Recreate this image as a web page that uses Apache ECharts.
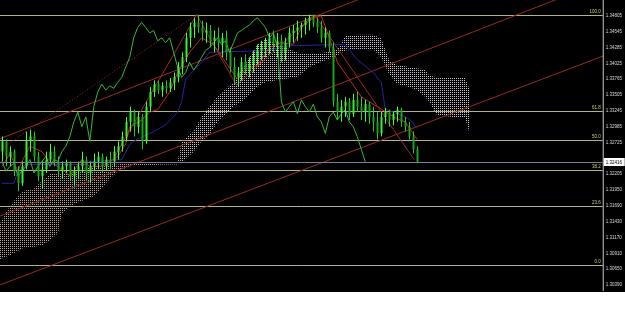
<!DOCTYPE html>
<html><head><meta charset="utf-8">
<script src="https://cdn.jsdelivr.net/npm/echarts@6/dist/echarts.min.js"></script>
<style>html,body{margin:0;padding:0;background:#fff;}#c{width:625px;height:322px;}</style>
</head><body><div id="c"></div>
<script>
// ---- data ----
const tickLabels = ['1.30390','1.30650','1.30910','1.31170','1.31430','1.31690','1.31950','1.32205','','1.32725','1.32985','1.33245','1.33505','1.33765','1.34025','1.34285','1.34545','1.34805'];
const tickBase = 1.30390, tickStep = 0.0026;

// candles: [open, close, low, high], one per bar (bar index = position)
const candles = [
[1.3258,1.3275,1.3242,1.3283],[1.3275,1.3250,1.3234,1.3278],[1.3250,1.3258,1.3234,1.3267],[1.3258,1.3226,1.3218,1.3262],
[1.3226,1.3206,1.3193,1.3234],[1.3206,1.3234,1.3202,1.3242],[1.3234,1.3275,1.3229,1.3291],[1.3275,1.3283,1.3258,1.3294],
[1.3283,1.3250,1.3242,1.3291],[1.3250,1.3218,1.3210,1.3258],[1.3218,1.3229,1.3197,1.3242],[1.3229,1.3245,1.3223,1.3258],
[1.3245,1.3258,1.3239,1.3271],[1.3258,1.3242,1.3234,1.3267],[1.3242,1.3226,1.3218,1.3250],[1.3226,1.3234,1.3213,1.3242],
[1.3234,1.3239,1.3223,1.3245],[1.3239,1.3218,1.3210,1.3242],[1.3218,1.3226,1.3202,1.3234],[1.3226,1.3234,1.3213,1.3242],
[1.3234,1.3245,1.3223,1.3258],[1.3245,1.3223,1.3210,1.3250],[1.3223,1.3234,1.3206,1.3242],[1.3234,1.3242,1.3226,1.3255],
[1.3242,1.3250,1.3229,1.3258],[1.3250,1.3234,1.3223,1.3255],[1.3234,1.3245,1.3226,1.3250],[1.3245,1.3242,1.3229,1.3258],
[1.3242,1.3258,1.3234,1.3267],[1.3258,1.3267,1.3245,1.3275],[1.3267,1.3283,1.3258,1.3291],[1.3283,1.3307,1.3275,1.3315],
[1.3307,1.3323,1.3291,1.3332],[1.3323,1.3299,1.3283,1.3327],[1.3299,1.3315,1.3288,1.3323],[1.3315,1.3275,1.3262,1.3320],
[1.3275,1.3332,1.3271,1.3340],[1.3332,1.3356,1.3323,1.3364],[1.3356,1.3369,1.3348,1.3375],[1.3369,1.3359,1.3353,1.3375],
[1.3359,1.3366,1.3348,1.3372],[1.3366,1.3362,1.3353,1.3375],[1.3362,1.3372,1.3356,1.3379],[1.3372,1.3380,1.3359,1.3388],
[1.3380,1.3397,1.3372,1.3405],[1.3397,1.3413,1.3385,1.3421],[1.3413,1.3445,1.3405,1.3453],[1.3445,1.3462,1.3429,1.3470],
[1.3462,1.3470,1.3445,1.3478],[1.3470,1.3462,1.3453,1.3483],[1.3462,1.3453,1.3440,1.3473],[1.3453,1.3457,1.3437,1.3470],
[1.3457,1.3440,1.3429,1.3466],[1.3440,1.3445,1.3421,1.3457],[1.3445,1.3437,1.3424,1.3462],[1.3437,1.3445,1.3413,1.3453],
[1.3445,1.3421,1.3408,1.3457],[1.3421,1.3397,1.3388,1.3429],[1.3397,1.3380,1.3369,1.3413],[1.3380,1.3388,1.3364,1.3397],
[1.3388,1.3405,1.3375,1.3413],[1.3405,1.3392,1.3385,1.3418],[1.3392,1.3401,1.3380,1.3413],[1.3401,1.3413,1.3388,1.3424],
[1.3413,1.3424,1.3401,1.3434],[1.3424,1.3429,1.3408,1.3440],[1.3429,1.3437,1.3413,1.3445],[1.3437,1.3445,1.3418,1.3453],
[1.3445,1.3434,1.3421,1.3457],[1.3434,1.3440,1.3413,1.3453],[1.3440,1.3421,1.3405,1.3450],[1.3421,1.3437,1.3408,1.3445],
[1.3437,1.3453,1.3429,1.3462],[1.3453,1.3457,1.3437,1.3466],[1.3457,1.3462,1.3440,1.3473],[1.3462,1.3466,1.3445,1.3470],
[1.3466,1.3473,1.3450,1.3478],[1.3473,1.3478,1.3457,1.3483],[1.3478,1.3470,1.3462,1.3483],[1.3470,1.3462,1.3453,1.3478],
[1.3462,1.3445,1.3437,1.3473],[1.3445,1.3453,1.3429,1.3462],[1.3453,1.3429,1.3421,1.3457],[1.3429,1.3340,1.3332,1.3437],
[1.3340,1.3323,1.3310,1.3353],[1.3323,1.3332,1.3307,1.3343],[1.3332,1.3340,1.3315,1.3348],[1.3340,1.3320,1.3310,1.3346],
[1.3320,1.3343,1.3315,1.3353],[1.3343,1.3332,1.3323,1.3356],[1.3332,1.3323,1.3310,1.3348],[1.3323,1.3336,1.3307,1.3343],
[1.3336,1.3315,1.3304,1.3340],[1.3315,1.3307,1.3291,1.3332],[1.3307,1.3288,1.3278,1.3323],[1.3288,1.3315,1.3283,1.3323],
[1.3315,1.3323,1.3304,1.3330],[1.3323,1.3310,1.3299,1.3327],[1.3310,1.3320,1.3301,1.3323],[1.3320,1.3327,1.3307,1.3332],
[1.3327,1.3307,1.3299,1.3330],[1.3307,1.3299,1.3291,1.3315],[1.3299,1.3283,1.3278,1.3307],[1.3283,1.3262,1.3255,1.3291],
[1.3262,1.32416,1.3239,1.3267]
];

const tenkanBar = [0,2,4,5,7,10,12,15,17,20,22,25,27,29,31,32,35,37,39,42,44,47,50,53,56,59,61,64,67,70,73,75,78,80,82,84,87,90,92,95,99,101,104];
const tenkanVal = [1.3234,1.3255,1.3226,1.3242,1.3267,1.3258,1.3242,1.3229,1.3218,1.3245,1.3234,1.3234,1.3242,1.3250,1.3271,1.3299,1.3310,1.3323,1.3327,1.3356,1.3388,1.3421,1.3445,1.3434,1.3405,1.3377,1.3393,1.3400,1.3429,1.3437,1.3434,1.3462,1.3478,1.3481,1.3445,1.3405,1.3377,1.3348,1.3340,1.3328,1.3312,1.3307,1.3278];

const kijunBar = [0,3,4,6,21,22,30,32,34,38,41,44,45,46,50,52,66,72,86,89,93,95,96,100,102,104];
const kijunVal = [1.3206,1.3206,1.3226,1.3237,1.3237,1.3242,1.3245,1.3270,1.3279,1.3291,1.3302,1.3323,1.3340,1.3377,1.3405,1.3421,1.3424,1.3432,1.3434,1.3409,1.3388,1.3372,1.3328,1.3318,1.3312,1.3296];

const chikouShift = 13;

const cloudBar = [-1,2,5,8,10,12,14,15,17,20,23,25,27,29,31,33,37,42,44,45,48,50,52,54,58,60,64,66,70,74,77,81,84,86,89,93,95,97,99,102,104,106,107,109,113,116,117];
const spanA = [1.3135,1.3169,1.3193,1.3197,1.3210,1.3221,1.3223,1.3223,1.3223,1.3229,1.3234,1.3237,1.3237,1.3237,1.3239,1.3239,1.3239,1.3240,1.3242,1.3275,1.3291,1.3315,1.3332,1.3348,1.3372,1.3392,1.3434,1.3442,1.3432,1.3421,1.3418,1.3421,1.3426,1.3448,1.3450,1.3450,1.3444,1.3408,1.3400,1.3397,1.3395,1.3393,1.3383,1.3380,1.3380,1.3379,1.3362];
const spanB = [1.3080,1.3088,1.3099,1.3102,1.3104,1.3112,1.3124,1.3156,1.3169,1.3177,1.3185,1.3198,1.3213,1.3226,1.3231,1.3236,1.3236,1.3237,1.3237,1.3240,1.3258,1.3275,1.3286,1.3307,1.3332,1.3340,1.3364,1.3372,1.3377,1.3380,1.3397,1.3408,1.3416,1.3424,1.3426,1.3426,1.3413,1.3385,1.3369,1.3364,1.3359,1.3348,1.3340,1.3318,1.3315,1.3315,1.3291];
const cloudSplitBar = 45;

const fibHigh = 1.34826, fibLow = 1.30715;
const fibLevels = [0, 23.6, 38.2, 50, 61.8, 100];
const fibLabels = ['0.0','23.6','38.2','50.0','61.8','100.0'];

const lastPrice = 1.32416, lastPriceLabel = '1.32416';

const channelLines = [
  [[-1,1.3038],[155,1.3426]],
  [[-1,1.3151],[155,1.3549]],
  [[-1,1.3278],[100,1.3535]]
];
const dottedLine = [[-1,1.3259],[48.75,1.3483]];
const zigzag = [[28.25,1.3250],[48.75,1.3483],[58.75,1.3367],[78.25,1.3483],[103.25,1.3245]];

// ---- chart ----
const FONT = '4.5px "Liberation Sans"';
function makePattern(color){
  const c = document.createElement('canvas'); c.width = 2; c.height = 2;
  const g = c.getContext('2d'); g.fillStyle = color; g.fillRect(0,0,1,1);
  return {image: c, repeat: 'repeat'};
}
const patSandy = makePattern('#bfa092');
const patThistle = makePattern('#cbc3cb');

const candleData = candles.map((c,i)=>[i, c[0], c[1], c[2], c[3]]);
const chikouData = [];
for (let i = 0; i + chikouShift < candles.length; i++) chikouData.push([i, candles[i+chikouShift][1]]);
const cloudData = cloudBar.map((b,j)=>[b, spanA[j], spanB[j]]);
const fibData = fibLevels.map((lv,k)=>[k, fibLow + (fibHigh - fibLow) * lv / 100]);

function fmt(v){
  const k = (v - tickBase) / tickStep, r = Math.round(k);
  if (Math.abs(k - r) > 0.02 || r < 0 || r >= tickLabels.length) return '';
  return tickLabels[r];
}

const trendColor = '#982a24';
const series = [
  { // Kumo cloud (dotted hatch between Senkou spans)
    type:'custom', clip:true, silent:true, z:1,
    data: cloudData, encode:{x:0, y:[1,2]},
    renderItem: function(params, api){
      const j = params.dataIndex;
      if (j >= cloudBar.length - 1) return null;
      const p1 = api.coord([cloudBar[j], spanA[j]]);
      const p2 = api.coord([cloudBar[j+1], spanA[j+1]]);
      const p3 = api.coord([cloudBar[j+1], spanB[j+1]]);
      const p4 = api.coord([cloudBar[j], spanB[j]]);
      return {type:'polygon', shape:{points:[p1,p2,p3,p4]},
        style:{fill: cloudBar[j] < cloudSplitBar ? patSandy : patThistle, stroke:null}};
    }
  },
  { // Fibonacci levels
    type:'custom', clip:false, silent:true, z:2,
    data: fibData, encode:{y:1},
    renderItem: function(params, api){
      const cs = params.coordSys;
      const y = Math.round(api.coord([0, api.value(1)])[1]) + 0.5;
      return {type:'group', children:[
        {type:'line', shape:{x1:cs.x, y1:y, x2:cs.x+cs.width, y2:y}, style:{stroke:'#b4b482', lineWidth:1}},
        {type:'text', style:{text: fibLabels[api.value(0)], x: cs.x+cs.width-2, y: y-1, align:'right', verticalAlign:'bottom', fill:'#d0d070', font: FONT}}
      ]};
    }
  },
  { // current price line + axis box + price-scale border
    type:'custom', clip:false, silent:true, z:6,
    data: [[lastPrice]], encode:{y:0},
    renderItem: function(params, api){
      const cs = params.coordSys;
      const y = Math.round(api.coord([0, api.value(0)])[1]) + 0.5;
      const xr = cs.x + cs.width;
      return {type:'group', children:[
        {type:'line', shape:{x1:xr+0.5, y1:0, x2:xr+0.5, y2:291}, style:{stroke:'#c8c8c8', lineWidth:1}},
        {type:'line', shape:{x1:cs.x, y1:y, x2:xr, y2:y}, style:{stroke:'#7e7e9a', lineWidth:1}},
        {type:'rect', shape:{x:xr+1, y:y-4.5, width:21, height:8}, style:{fill:'#fff'}},
        {type:'text', style:{text:lastPriceLabel, x:xr+3, y:y, align:'left', verticalAlign:'middle', fill:'#000', font: FONT}}
      ]};
    }
  }
];
channelLines.forEach(l=>series.push({type:'line', data:l, showSymbol:false, silent:true, z:3,
  lineStyle:{color:trendColor, width:1}}));
series.push({type:'line', data:dottedLine, showSymbol:false, silent:true, z:3,
  lineStyle:{color:trendColor, width:1, type:[1,2]}});
series.push({type:'line', data:zigzag, showSymbol:false, silent:true, z:3,
  lineStyle:{color:trendColor, width:1}});
series.push({type:'line', data:kijunBar.map((b,j)=>[b,kijunVal[j]]), showSymbol:false, silent:true, z:4,
  lineStyle:{color:'#2424a4', width:1}});
series.push({type:'line', data:tenkanBar.map((b,j)=>[b,tenkanVal[j]]), showSymbol:false, silent:true, z:4,
  lineStyle:{color:'#c4261a', width:1}});
series.push({type:'line', data:chikouData, showSymbol:false, silent:true, z:4,
  lineStyle:{color:'#3cb83c', width:1}});
series.push({ // candles
  type:'custom', clip:true, silent:true, z:5,
  data: candleData, encode:{x:0, y:[1,2,3,4]},
  renderItem: function(params, api){
    const i = api.value(0), o = api.value(1), c = api.value(2), l = api.value(3), h = api.value(4);
    const po = api.coord([i, o]), pc = api.coord([i, c]), pl = api.coord([i, l]), ph = api.coord([i, h]);
    const xr = Math.round(po[0]);
    const bull = c >= o;
    const col = bull ? '#44ff44' : '#26cc26';
    const top = Math.min(po[1], pc[1]), hgt = Math.max(1, Math.abs(po[1] - pc[1]));
    return {type:'group', children:[
      {type:'line', shape:{x1:xr+0.5, y1:ph[1], x2:xr+0.5, y2:pl[1]}, style:{stroke:col, lineWidth:1}},
      {type:'rect', shape:{x:xr-0.5, y:top, width:2, height:hgt}, style:{fill: bull ? '#36f036' : '#18a418'}}
    ]};
  }
});

const chart = echarts.init(document.getElementById('c'), null, {renderer:'canvas'});
chart.setOption({
  animation:false,
  backgroundColor:'#000',
  grid:{left:0, right:21, top:-3, bottom:29},
  xAxis:{type:'value', min:-0.5, max:150.5, show:false},
  yAxis:{type:'value', position:'right', min:1.30260, max:1.35070, interval:0.0013,
    axisLine:{show:false, onZero:false},
    axisTick:{show:false}, splitLine:{show:false},
    axisLabel:{color:'#dcdcdc', fontSize:4.5, fontFamily:'Liberation Sans', margin:3, formatter: fmt}
  },
  graphic:{elements:[{type:'rect', left:0, top:292, z:1000, zlevel:1, shape:{width:625, height:30}, style:{fill:'#fff'}}]},
  series: series
});
</script></body></html>
